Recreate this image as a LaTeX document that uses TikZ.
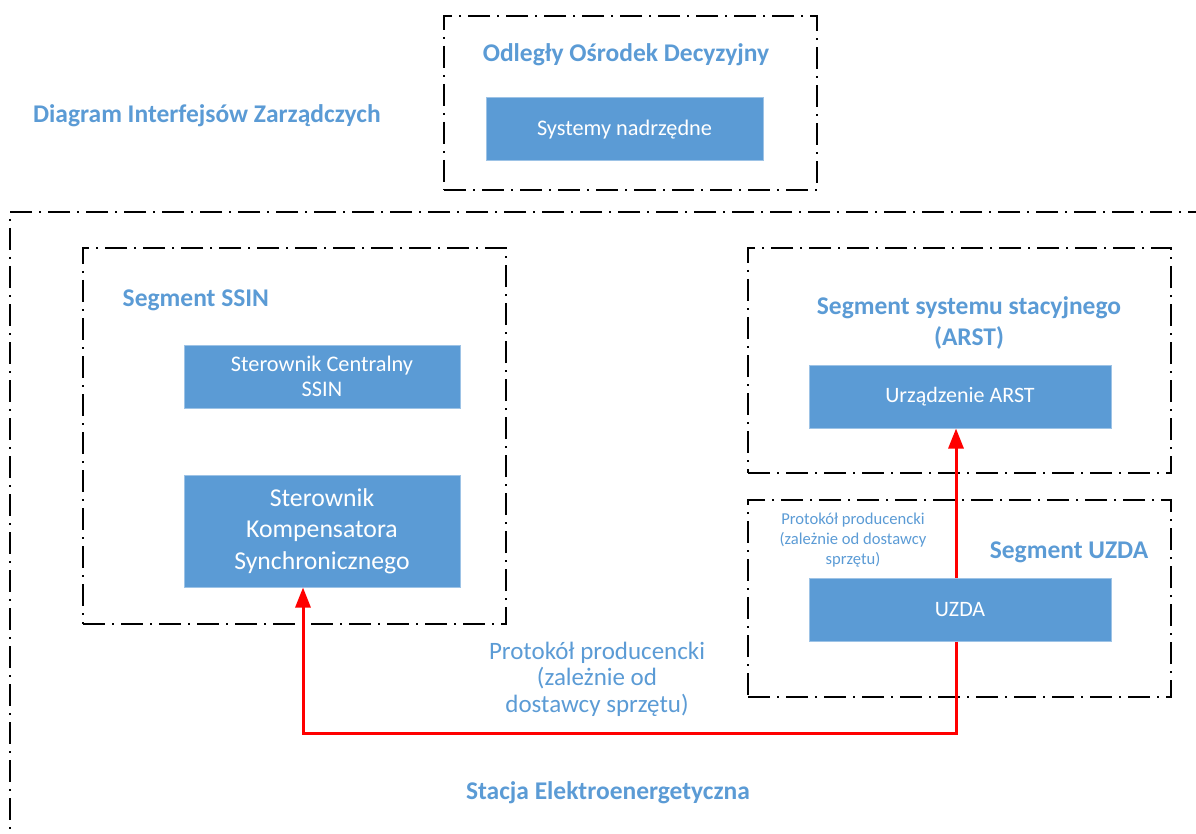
\documentclass[tikz,border=0pt]{standalone}
\usepackage{fontspec}
\setmainfont{Carlito}
\usepackage{xcolor}
\usepackage{tikz}
\usetikzlibrary{arrows.meta, positioning}

\definecolor{segblue}{HTML}{5B9BD5}
\definecolor{segedge}{HTML}{9DC3E6}

\begin{document}
\begin{tikzpicture}[x=1pt, y=-1pt, thick, >=Triangle,
    frame/.style={draw, line width=2pt, dash pattern=on 22pt off 7pt on 2pt off 7pt, inner sep=0pt},
    unit/.style={rectangle, fill=segblue, draw=segedge, line width=1pt, text=white, align=center, inner sep=0pt},
    heading/.style={text=segblue, align=center, font=\fontsize{25.5}{31}\selectfont\bfseries},
    note/.style={text=segblue, align=center},
    link/.style={red, line width=3pt, -{Triangle[length=20pt, width=15pt]}}]
    \useasboundingbox (0,0) rectangle (1196,834);

    % frames
    \node[frame, minimum width=373pt, minimum height=174pt] (odfr) at (630.5,103) {};
    \node[frame, minimum width=1220pt, minimum height=660pt] (stacja) at (620,542) {};
    \node[frame, minimum width=423pt, minimum height=376pt] (ssinfr) at (294.5,436) {};
    \node[frame, minimum width=423pt, minimum height=225pt] (arstfr) at (959.5,360.5) {};
    \node[frame, minimum width=423pt, minimum height=197pt] (uzdafr) at (959.5,598.5) {};

    % headings
    \node[heading] (title) at (207,116) {Diagram Interfejsów Zarządczych};
    \node[heading] (odtitle) at (626,55) {Odległy Ośrodek Decyzyjny};
    \node[heading, anchor=west] (ssintitle) at (119,300) {Segment SSIN};
    \node[heading] (arsttitle) at (969,323) {Segment systemu stacyjnego\\(ARST)};
    \node[heading] (uzdatitle) at (1069,552) {Segment UZDA};
    \node[heading] (stacjatitle) at (608,793) {Stacja Elektroenergetyczna};

    % devices
    \node[unit, minimum width=277pt, minimum height=63pt, font=\fontsize{22.3}{26}\selectfont] (nadrz) at (624.5,129.5) {Systemy nadrzędne};
    \node[unit, minimum width=276pt, minimum height=63pt, font=\fontsize{22.3}{25}\selectfont] (sc) at (322,376.5) {Sterownik Centralny\\SSIN};
    \node[unit, minimum width=276pt, minimum height=112pt, font=\fontsize{25.7}{31.5}\selectfont] (sks) at (322,531) {Sterownik\\Kompensatora\\Synchronicznego};
    \node[unit, minimum width=302pt, minimum height=63pt, font=\fontsize{22}{26}\selectfont] (urz) at (960,396.5) {Urządzenie ARST};
    \node[unit, minimum width=302pt, minimum height=63pt, font=\fontsize{22}{26}\selectfont] (uzda) at (960,609.5) {UZDA};

    % protocol notes
    \node[note, font=\fontsize{16.6}{20}\selectfont] (protup) at (853,540) {Protokół producencki\\(zależnie od dostawcy\\sprzętu)};
    \node[note, font=\fontsize{25}{26.5}\selectfont] (protdown) at (597,679) {Protokół producencki\\(zależnie od\\dostawcy sprzętu)};

    % links
    \draw[link] ([xshift=-4pt]uzda.north) -- ([xshift=-4pt]urz.south);
    \draw[link] ([xshift=-4pt]uzda.south) -- ++(0,92) -| ([xshift=-19pt]sks.south);
\end{tikzpicture}
\end{document}
